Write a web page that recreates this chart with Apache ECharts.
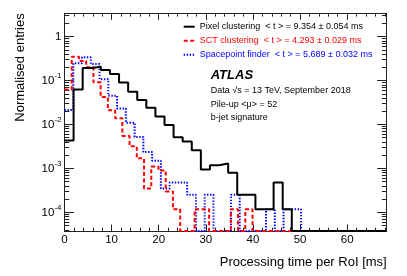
<!DOCTYPE html>
<html><head><meta charset="utf-8">
<script src="https://cdn.jsdelivr.net/npm/echarts@6/dist/echarts.min.js"></script>
<style>html,body{margin:0;padding:0;background:#fff}#c{width:407px;height:276px}</style>
</head><body><div id="c"></div>
<script>
// ---------------- data ----------------
const seriesNames = ['Pixel clustering', 'SCT clustering', 'Spacepoint finder'];
const meanTime = ['9.354', '4.293', '5.689'];
const meanErr = ['0.054', '0.029', '0.032'];

// histogram bin widths [ms]
const pixelBinWidth = 1.93;
const sctBinWidth = 1.535;
const spBinWidth = 1.86;

// normalised entries per bin (0 = empty bin)
const pixelValues = [0.0043, 0.063, 0.194, 0.207, 0.174, 0.141, 0.090, 0.056, 0.036, 0.024,
  0.0153, 0.0098, 0.0051, 0.0041, 0.0026, 0.00095, 0.00118, 0.0013, 0.0008, 0.00025,
  0.00025, 0.000117, 0.000117, 0.00048, 0.000117, 0, 0, 0, 0, 0,
  0, 0, 0, 0, 0, 0];
const sctValues = [0.063, 0.35, 0.28, 0.2, 0.091, 0.042, 0.021, 0.0138, 0.0055, 0.0032,
  0.0017, 0.00035, 0.0011, 0.0009, 0.0003, 0.000117, 0, 0, 0.000117, 0.000117,
  0, 0, 0, 0.000117, 0, 0.000117, 0, 0, 0, 0,
  0, 0, 0, 0, 0, 0, 0, 0, 0, 0,
  0, 0, 0, 0, 0];
const spValues = [0.0214, 0.247, 0.338, 0.239, 0.107, 0.045, 0.023, 0.011, 0.0052, 0.00235,
  0.0015, 0.00035, 0.00048, 0.00048, 0.00025, 0, 0.00025, 0, 0, 0.00025,
  0, 0, 0, 0.000117, 0, 0.000117, 0.000117, 0, 0, 0,
  0, 0, 0, 0, 0, 0, 0];

const xTickLabels = [0, 10, 20, 30, 40, 50, 60];
const yDecades = [-4, -3, -2, -1, 0];
const xMin = 0, xMax = 68.4;
const yMinVal = 3.76e-5, yMaxVal = 3.4;
const atlasLabel = 'ATLAS';
const infoLines = ['Data \u221As = 13 TeV, September 2018', 'Pile-up <\u03bc> = 52', 'b-jet signature'];
const xTitle = 'Processing time per RoI [ms]';
const yTitle = 'Normalised entries';

// ---------------- build ----------------
const FONT = '"Liberation Sans", Arial, Helvetica, sans-serif';
const colors = ['#000000', '#ff0000', '#0000ff'];
const yLo = Math.log10(yMinVal), yHi = Math.log10(yMaxVal);

function steps(values, w) {
  const pts = values.map((v, k) => [k * w, v > 0 ? Math.log10(v) : yLo]);
  const last = values[values.length - 1];
  pts.push([Math.min(values.length * w, xMax), last > 0 ? Math.log10(last) : yLo]);
  return pts;
}

const yMinor = [];
for (let e = -5; e <= 0; e++) {
  for (let m = 2; m <= 9; m++) {
    const l = Math.log10(m * Math.pow(10, e));
    if (l >= yLo && l <= yHi) yMinor.push(l);
  }
}
const xMinor = [];
for (let v = 2; v <= xMax; v += 2) { if (v % 10 !== 0) xMinor.push(v); }

const frame = { color: '#222', width: 1 };

function xAxis(pos, major) {
  return {
    type: 'value', position: pos, min: xMin, max: xMax,
    axisLine: { show: major, onZero: false, lineStyle: frame },
    axisTick: { show: true, inside: true, length: major ? 6.5 : 3.3,
      customValues: major ? xTickLabels : xMinor, lineStyle: frame },
    axisLabel: { show: major && pos === 'bottom', customValues: xTickLabels, margin: 3,
      fontSize: 11.5, fontFamily: FONT, color: '#000' },
    splitLine: { show: false }
  };
}
function yAxis(pos, major) {
  return {
    type: 'value', position: pos, min: yLo, max: yHi,
    axisLine: { show: major, onZero: false, lineStyle: frame },
    axisTick: { show: true, inside: true, length: major ? 9.5 : 4.8,
      customValues: major ? yDecades : yMinor, lineStyle: frame },
    axisLabel: { show: major && pos === 'left', customValues: yDecades, margin: 3,
      fontSize: 11.5, fontFamily: FONT, color: '#000',
      formatter: v => v === 0 ? '{b|1}' : '{b|10}{s|-' + (-v) + '}',
      rich: { b: { fontSize: 11.5, fontFamily: FONT, color: '#000' },
              s: { fontSize: 8, fontFamily: FONT, color: '#000', padding: [0, 0, 9, 0] } } },
    splitLine: { show: false }
  };
}

const styles = [
  { width: 2, type: 'solid' },
  { width: 2, type: [4, 2.5] },
  { width: 2, type: [1.4, 1.6] }
];
const data = [steps(pixelValues, pixelBinWidth), steps(sctValues, sctBinWidth), steps(spValues, spBinWidth)];
const order = [2, 1, 0];
const series = order.map(i => ({
  name: seriesNames[i], type: 'line', step: 'end', data: data[i],
  symbol: 'none', showSymbol: false, clip: false,
  color: colors[i],
  lineStyle: Object.assign({ color: colors[i] }, styles[i])
}));

const chart = echarts.init(document.getElementById('c'), null, { renderer: 'canvas' });
chart.setOption({
  animation: false,
  backgroundColor: '#fff',
  grid: { left: 64.5, top: 13.3, width: 322.2, height: 217.7, containLabel: false, outerBoundsMode: 'none' },
  xAxis: [xAxis('bottom', true), xAxis('bottom', false), xAxis('top', true), xAxis('top', false)],
  yAxis: [yAxis('left', true), yAxis('left', false), yAxis('right', true), yAxis('right', false)],
  legend: {
    orient: 'vertical', left: 182.7, top: 21.7, itemWidth: 11, itemHeight: 10, itemGap: 4,
    padding: 0,
    itemStyle: { opacity: 0 },
    data: seriesNames.map((n, i) => ({ name: n, textStyle: { color: colors[i] } })),
    formatter: name => {
      const i = seriesNames.indexOf(name);
      return name + '  < t > = ' + meanTime[i] + ' \u00b1 ' + meanErr[i] + ' ms';
    },
    textStyle: { fontSize: 9, fontFamily: FONT, lineHeight: 10 }
  },
  graphic: [
    { type: 'text', x: 20, y: 13.3, rotation: Math.PI / 2,
      style: { text: yTitle, font: '13px ' + FONT, fill: '#000', textAlign: 'right', textVerticalAlign: 'middle' } },
    { type: 'text', x: 386.7, y: 262,
      style: { text: xTitle, font: '13px ' + FONT, fill: '#000', textAlign: 'right', textVerticalAlign: 'middle' } },
    { type: 'text', x: 210.7, y: 75,
      style: { text: atlasLabel, font: 'italic bold 13px ' + FONT, fill: '#000', textAlign: 'left', textVerticalAlign: 'middle' } },
    { type: 'text', x: 210.7, y: 90.8,
      style: { text: infoLines[0], font: '9px ' + FONT, fill: '#000', textAlign: 'left', textVerticalAlign: 'middle' } },
    { type: 'text', x: 210.7, y: 104.3,
      style: { text: infoLines[1], font: '9px ' + FONT, fill: '#000', textAlign: 'left', textVerticalAlign: 'middle' } },
    { type: 'text', x: 210.7, y: 117.6,
      style: { text: infoLines[2], font: '9px ' + FONT, fill: '#000', textAlign: 'left', textVerticalAlign: 'middle' } }
  ],
  series: series
});
</script>
</body></html>
